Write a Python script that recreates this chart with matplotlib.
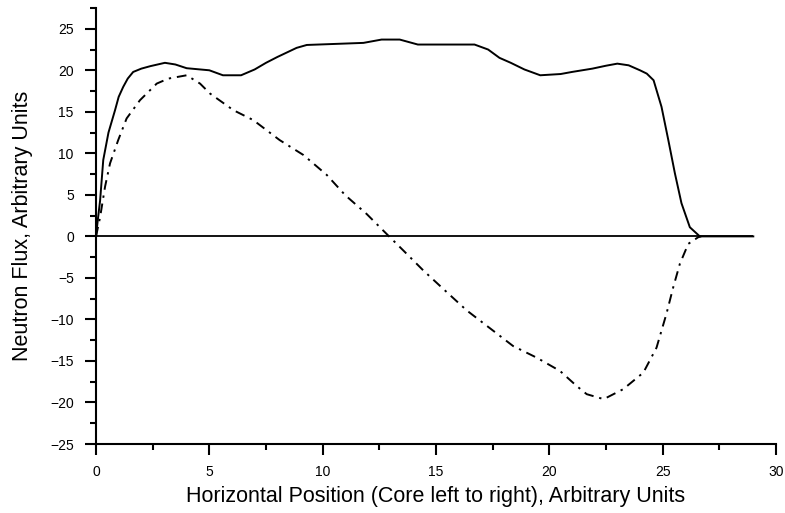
import numpy as np
import matplotlib
matplotlib.use('Agg')
import matplotlib.pyplot as plt
from matplotlib.ticker import MultipleLocator

plt.rcParams['font.family'] = ['Liberation Sans', 'DejaVu Sans']

# curva cheia (fluxo)
flux_x = [0, 0.08, 0.18, 0.32, 0.55, 0.84, 1.0, 1.2, 1.4, 1.64, 2.0, 2.4, 3.04, 3.5,
          4.0, 5.0, 5.6, 6.4, 7.0, 7.5, 8.0, 8.85, 9.3, 11.8, 12.6, 13.4, 14.2,
          16.7, 17.3, 17.8, 18.3, 18.9, 19.6, 20.5, 21.0, 21.9, 22.5, 23.0, 23.5,
          24.0, 24.3, 24.6, 24.95, 25.25, 25.54, 25.83, 26.2, 26.64, 29.0]
flux_y = [0, 2.0, 4.3, 9.2, 12.5, 15.2, 16.8, 18.0, 19.0, 19.8, 20.2, 20.5, 20.9, 20.7,
          20.25, 20.0, 19.4, 19.4, 20.1, 20.9, 21.6, 22.7, 23.05, 23.3, 23.7, 23.7, 23.1,
          23.1, 22.5, 21.5, 20.9, 20.1, 19.4, 19.55, 19.8, 20.2, 20.55, 20.8, 20.6,
          20.0, 19.6, 18.8, 15.6, 11.6, 7.6, 4.0, 1.1, 0, 0]

# curva traco-ponto
cur_x = [0, 0.18, 0.4, 0.62, 0.98, 1.35, 1.94, 2.68, 3.19, 4.0, 4.59, 5.03, 6.06, 6.94,
         8.1, 9.15, 10.18, 11.0, 11.94, 12.82, 13.56, 14.44, 15.47, 16.35, 17.4, 18.4,
         19.44, 20.47, 21.2, 21.65, 22.4, 23.26, 24.15, 24.73, 25.17, 25.47, 25.76,
         26.13, 26.57, 26.7]
cur_y = [0, 2.3, 6.0, 8.8, 11.6, 14.2, 16.4, 18.4, 19.0, 19.4, 18.4, 17.2, 15.2, 14.0,
         11.6, 9.8, 7.4, 4.95, 2.7, 0.3, -1.7, -4.1, -6.7, -8.9, -11.1, -13.2,
         -14.6, -16.2, -18.0, -19.0, -19.6, -18.4, -16.4, -13.4, -9.3, -6.1, -3.3,
         -0.9, -0.1, 0]

zero_start, zero_end = 0, 29

fig = plt.figure(figsize=(7.85, 5.13), dpi=100)
ax = fig.add_axes([0.1223, 0.1345, 0.8662, 0.8499])

ax.hlines(0, zero_start, zero_end, color='black', lw=1.3)
ax.plot(flux_x, flux_y, color='black', lw=1.4)
ax.plot(cur_x, cur_y, color='black', lw=1.4, dashes=(5, 3, 1.2, 3))

ax.set_xlim(0, 30)
ax.set_ylim(-25, 27.5)
ax.spines['top'].set_visible(False)
ax.spines['right'].set_visible(False)
for s in ['left', 'bottom']:
    ax.spines[s].set_linewidth(1.5)

ax.xaxis.set_major_locator(MultipleLocator(5))
ax.xaxis.set_minor_locator(MultipleLocator(2.5))
ax.yaxis.set_major_locator(MultipleLocator(5))
ax.yaxis.set_minor_locator(MultipleLocator(2.5))
ax.tick_params(which='major', direction='out', length=8, width=1.5, labelsize=10)
ax.tick_params(which='minor', direction='out', length=4.5, width=1.5)
ax.tick_params(axis='y', which='major', pad=8)
ax.tick_params(axis='x', which='major', pad=7)

ax.set_xlabel('Horizontal Position (Core left to right), Arbitrary Units', fontsize=15.5, labelpad=5)
ax.set_ylabel('Neutron Flux, Arbitrary Units', fontsize=15.5, labelpad=12)

fig.savefig('out.png', dpi=100)
